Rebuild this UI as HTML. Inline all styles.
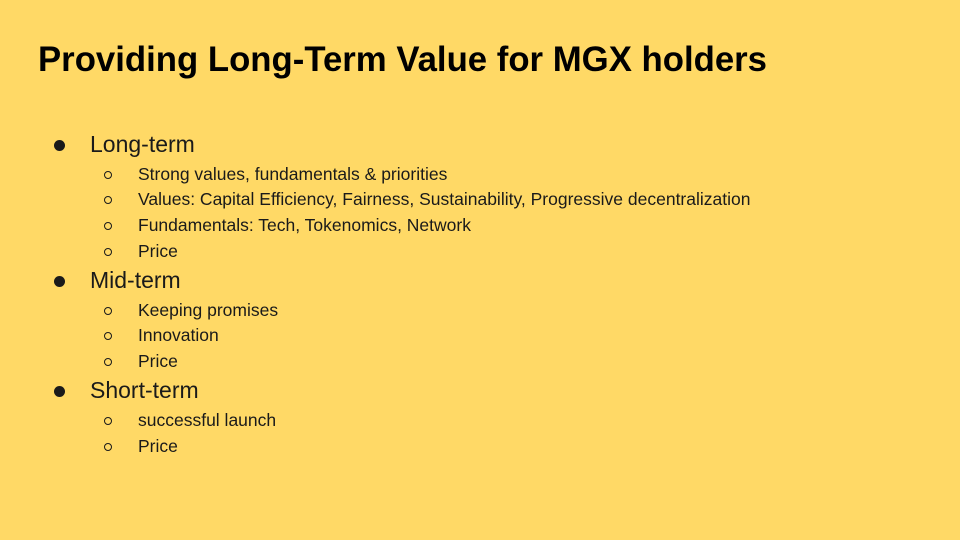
<!DOCTYPE html>
<html><head><meta charset="utf-8">
<style>
html,body{margin:0;padding:0;}
body{width:960px;height:540px;background:#FFD966;position:relative;overflow:hidden;font-family:"Liberation Sans",sans-serif;color:#1a1a1a;}
.l1,.l2{position:absolute;white-space:nowrap;line-height:1;}
.l1{font-size:23px;left:90px;}
.l2{font-size:17.5px;left:138px;}
.b1{position:absolute;left:54px;width:11px;height:11px;border-radius:50%;background:#1a1a1a;}
.b2{position:absolute;left:104px;width:8px;height:8px;border-radius:50%;border:1.3px solid #1a1a1a;box-sizing:border-box;}
</style></head><body>
<svg width="960" height="100" style="position:absolute;left:0;top:0">
<text x="38" y="71" font-family="Liberation Sans, sans-serif" font-weight="bold" font-size="35" fill="#000" textLength="729" lengthAdjust="spacingAndGlyphs">Providing Long-Term Value for MGX holders</text>
</svg>
<div id="list"></div>
<script>
var items=[
[1,145,"Long-term"],[2,175,"Strong values, fundamentals & priorities"],
[2,200,"Values: Capital Efficiency, Fairness, Sustainability, Progressive decentralization"],
[2,226,"Fundamentals: Tech, Tokenomics, Network"],[2,252,"Price"],
[1,281,"Mid-term"],[2,311,"Keeping promises"],[2,336,"Innovation"],[2,362,"Price"],
[1,391,"Short-term"],[2,421,"successful launch"],[2,447,"Price"]];
var list=document.getElementById('list');
items.forEach(function(it){
  var lvl=it[0],cy=it[1];
  var b=document.createElement('div');
  
  
  b.className=lvl===1?'b1':'b2';
  b.style.top=(cy-(lvl===1?5.5:4))+'px';
  list.appendChild(b);
  var t=document.createElement('div');
  
  
  t.className=lvl===1?'l1':'l2';
  t.textContent=it[2];
  t.style.top=(cy-(lvl===1?12:9.5))+'px';
  list.appendChild(t);
});
</script>
</body></html>
